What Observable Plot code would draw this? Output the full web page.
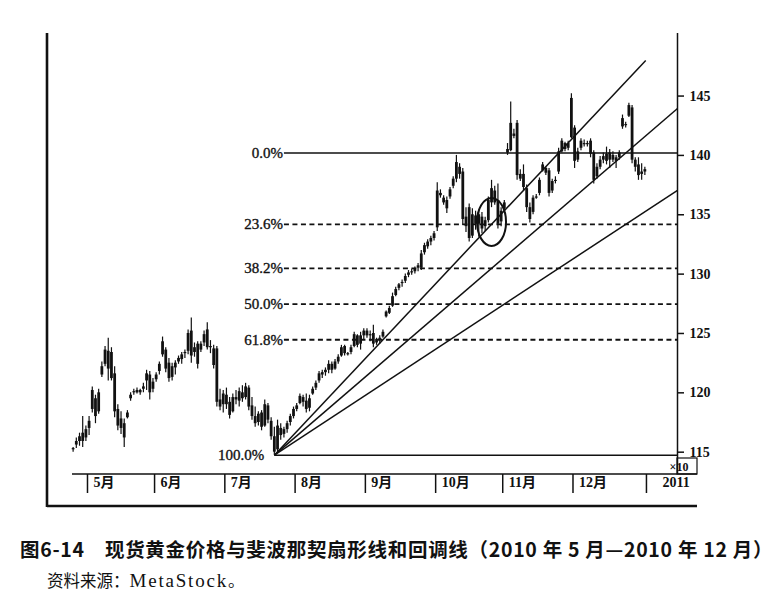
<!DOCTYPE html>
<html><head><meta charset="utf-8">
<script src="https://cdn.jsdelivr.net/npm/d3@7"></script>
<script src="https://cdn.jsdelivr.net/npm/@observablehq/plot@0.6"></script>
<style>
body{margin:0;background:#fff;}
#wrap{position:relative;width:772px;height:595px;overflow:hidden;background:#fff;}
#chart{position:absolute;left:0;top:0;}
.cap1{position:absolute;left:20px;top:536px;white-space:nowrap;font-family:"Noto Sans CJK SC","Liberation Sans",sans-serif;font-weight:bold;font-size:19.5px;letter-spacing:0.7px;line-height:26px;color:#111;}
.cap2{position:absolute;left:47px;top:567px;white-space:nowrap;font-family:"Noto Sans CJK SC",serif;font-size:16.5px;line-height:26px;color:#111;}
.cap2 .lat{font-family:"Liberation Serif",serif;font-size:19px;letter-spacing:1.8px;}
</style></head>
<body><div id="wrap"><div id="chart"></div>
<div class="cap1">图6-14　现货黄金价格与斐波那契扇形线和回调线（2010 年 5 月—2010 年 12 月）</div>
<div class="cap2">资料来源：<span class="lat">MetaStock</span>。</div>
</div>
<script>
// Daily bars [open, high, low, close], price ×10
const apr = [
[115.2,115.4,115.0,115.3],[115.6,116.2,115.3,115.9],[115.9,116.6,115.5,116.3],[116.6,118.0,115.4,115.9],[116.2,117.2,115.9,116.9]];
const may = [
[117.0,118.0,116.4,117.6],[118.6,120.5,118.3,120.2],[119.5,119.8,117.4,118.0],[118.4,120.3,118.2,120.0],
[121.5,122.6,121.3,122.2],[122.4,123.9,122.2,123.6],[123.5,124.6,121.0,122.0],[123.4,123.8,121.0,121.2],
[121.6,122.2,117.9,118.4],[118.6,119.0,116.8,117.2],[117.8,118.4,116.5,117.0],[117.4,117.8,115.4,116.2],
[117.9,118.5,117.8,118.3],[119.5,120.0,119.3,119.8],[120.0,120.3,119.8,120.1],[120.2,120.4,119.9,120.0],
[120.0,120.3,119.8,120.2],[120.3,120.8,120.0,120.5],[121.0,121.9,120.2,121.6],[121.5,121.8,119.4,120.0],
[120.3,121.2,120.0,120.9]];
const jun = [
[121.1,121.7,120.9,121.5],[121.8,122.6,121.5,122.4],[123.2,124.7,123.0,124.3],[123.6,123.8,121.7,122.0],
[122.5,122.9,120.9,121.2],[121.3,122.5,121.0,122.2],[122.1,122.7,121.5,122.5],[122.6,123.1,122.4,122.9],
[122.8,123.4,122.4,123.2],[123.3,123.6,122.9,123.4],[123.5,125.3,123.2,125.0],[125.2,126.3,122.5,123.1],
[123.4,124.2,123.0,123.8],[124.1,124.3,122.0,122.4],[123.6,124.3,123.4,124.1],[124.2,125.2,123.9,124.9],
[125.3,125.9,123.6,123.8],[123.8,124.4,123.3,123.9],[123.7,124.0,122.0,122.3],[123.7,123.9,118.8,119.2],
[119.4,120.3,118.5,118.8],[119.0,120.2,118.3,119.9]];
const jul = [
[119.8,120.4,118.6,119.0],[119.2,119.6,117.8,118.1],[118.4,119.9,118.3,119.6],[119.6,120.2,119.0,119.4],
[119.3,120.4,118.8,120.1],[120.0,120.6,119.2,119.5],[119.6,120.8,119.4,120.5],[120.4,120.6,118.5,118.8],
[118.9,119.6,117.7,118.0],[118.0,118.8,117.1,117.4],[117.5,118.4,117.2,118.2],[118.3,118.5,116.8,117.1],
[117.2,119.4,117.1,119.0],[118.9,119.1,117.4,117.7],[117.6,117.9,116.0,116.3],[116.3,117.1,114.75,115.0],
[115.2,117.7,114.9,117.2],[117.0,117.4,116.0,116.4],[116.5,117.1,116.2,116.9],[116.9,117.6,116.6,117.4],
[117.5,118.2,117.2,118.0],[118.0,118.8,117.8,118.6]];
const aug = [
[118.6,119.1,118.4,118.9],[119.1,119.9,119.0,119.7],[119.6,119.8,118.8,119.2],[119.3,119.9,118.3,118.6],
[118.7,119.8,118.4,119.5],[119.9,120.5,119.8,120.3],[120.4,121.0,120.2,120.8],[121.0,121.8,120.8,121.6],
[121.5,121.9,121.2,121.7],[121.7,122.1,121.4,121.9],[121.9,122.7,121.6,122.4],[122.4,122.6,121.6,121.9],
[122.0,122.8,121.9,122.6],[122.6,123.2,122.4,123.0],[123.1,124.0,123.0,123.8],[123.9,124.0,123.1,123.3],
[123.2,123.4,123.1,123.3],[123.4,124.0,123.2,123.8],[123.9,125.1,123.8,124.9],[124.8,124.9,123.8,124.0],
[124.1,125.1,123.6,124.8],[124.8,125.4,124.5,125.2]];
const sep = [
[125.2,125.4,124.6,124.8],[124.8,125.2,124.3,124.9],[125.0,125.7,123.8,124.1],[124.2,124.6,124.0,124.5],
[124.4,124.8,124.1,124.6],[124.7,125.3,124.6,125.1],[126.4,126.9,126.3,126.8],[126.7,127.3,126.6,127.1],
[127.3,128.4,127.2,128.1],[128.2,128.9,128.1,128.7],[128.8,129.2,128.6,129.1],[129.2,129.5,128.9,129.3],
[129.4,130.0,129.2,129.8],[129.9,130.3,129.7,130.1],[130.1,130.4,129.9,130.2],[130.2,130.6,130.0,130.4],
[130.5,130.9,130.2,130.7],[130.5,132.0,130.3,131.7],[131.8,132.6,131.6,132.4],[132.3,132.9,132.1,132.7],
[132.7,133.2,132.4,133.0],[133.0,133.6,132.8,133.4]];
const oct = [
[133.9,137.7,133.6,137.0],[136.8,137.1,136.4,136.6],[136.4,136.6,135.8,136.0],[135.5,136.5,135.1,136.2],
[136.5,137.3,136.3,137.1],[137.4,138.2,137.2,138.0],[138.0,140.0,137.7,139.4],[139.0,139.3,138.0,138.4],
[138.6,138.9,134.1,134.6],[134.8,135.6,133.5,134.0],[135.6,135.9,132.7,133.0],[133.2,135.5,133.0,135.0],
[134.9,135.3,133.7,134.2],[134.2,135.4,133.1,135.0],[134.8,135.2,133.4,133.8],[134.0,134.8,133.6,134.5],
[134.5,136.5,134.3,136.2],[136.0,137.9,135.6,137.2],[137.0,137.4,135.8,136.0],[136.2,137.6,133.8,134.2],
[134.4,135.6,134.0,135.3]];
const nov = [
[135.5,136.2,135.3,136.0],[140.2,141.0,140.0,140.5],[140.4,144.5,140.3,142.7],[141.8,142.2,141.4,141.6],
[142.7,142.95,137.9,138.3],[138.4,138.8,137.8,138.0],[138.4,139.2,137.0,137.3],[137.2,137.5,135.2,135.6],
[135.6,136.0,134.3,134.6],[135.2,136.6,135.0,136.4],[136.4,136.7,136.3,136.5],[136.8,138.1,136.6,137.9],
[138.7,139.4,138.6,139.2],[138.9,139.0,138.3,138.5],[138.7,138.9,136.5,136.8],[137.0,138.0,136.8,137.8],
[137.8,138.2,137.6,137.9],[138.6,140.6,138.4,140.3],[140.3,141.4,140.2,141.2],[141.0,141.1,140.3,140.5],
[140.6,141.2,140.4,141.0],[141.5,145.2,141.4,144.8]];
const dec = [
[142.3,142.5,138.9,139.5],[139.6,140.6,139.4,140.3],[140.6,141.4,140.4,141.2],[141.0,141.3,140.7,140.9],
[140.9,141.2,140.7,141.0],[141.2,141.4,139.8,140.1],[140.2,140.4,137.6,137.9],[138.2,139.3,138.0,139.0],
[139.0,139.9,138.8,139.6],[139.6,140.2,139.3,139.9],[140.1,140.7,139.2,139.5],[139.6,140.5,138.9,140.2],
[140.0,140.3,139.4,139.6],[139.5,140.0,138.9,139.8],[139.8,140.4,139.6,140.2],[142.4,143.4,142.2,143.1],
[142.6,142.8,142.3,142.5],[143.3,144.4,143.2,144.2],[144.0,144.2,139.3,139.6],[139.6,139.8,138.6,139.0],
[139.2,139.8,137.9,138.3],[138.4,139.3,137.9,138.6],[138.6,139.0,138.3,138.8]];

const monthLabels = ["5月","6月","7月","8月","9月","10月","11月","12月","2011"];
const yTicks = [115,120,125,130,135,140,145];
const fibHigh = 140.2;          // 0.0% level
const fanToBar = 113;           // bar of the high used for the fan
const fibLevels = [0, 23.6, 38.2, 50, 61.8, 100];
const fanRatios = [0.618, 0.5, 0.382];
const fanCeil = 148;
const highlight = {bar: 126, value: 134.4};

// layout
const W = 772, H = 520, mT = 33, mL = 47, mR = 95, mB = 46;
const xDomain = [-13.02, 184.22], yDomain = [113.12, 150.27];

const bars = [apr, may, jun, jul, aug, sep, oct, nov, dec].flat()
  .map((d, k) => ({i: k - apr.length, o: d[0], h: d[1], l: d[2], c: d[3]}));
const lowBar = bars.reduce((a, b) => (b.l < a.l ? b : a));
const fibLow = lowBar.l;

let acc = 0;
const monthTicks = [may, jun, jul, aug, sep, oct, nov, dec].map((m, k) => {
  const s = acc; acc += m.length; return {pos: s - 0.5, label: monthLabels[k]};
});
monthTicks.push({pos: acc - 0.5, label: monthLabels[8]});

const levels = fibLevels.map(p => ({p, v: fibHigh - p / 100 * (fibHigh - fibLow),
  start: p === 100 ? lowBar.i : lowBar.i + 3, end: xDomain[1]}));
const fans = fanRatios.map(f => {
  const slope = f * (fibHigh - fibLow) / (fanToBar - lowBar.i);
  let x2 = xDomain[1], y2 = fibLow + slope * (x2 - lowBar.i);
  if (y2 > fanCeil) { x2 = lowBar.i + (fanCeil - fibLow) / slope; y2 = fanCeil; }
  return {x1: lowBar.i, y1: fibLow, x2, y2};
});

const k = 0.5523, RX = 14.5, RY = 24;
const ellipse = {draw(ctx) {
  ctx.moveTo(RX, 0);
  ctx.bezierCurveTo(RX, RY * k, RX * k, RY, 0, RY);
  ctx.bezierCurveTo(-RX * k, RY, -RX, RY * k, -RX, 0);
  ctx.bezierCurveTo(-RX, -RY * k, -RX * k, -RY, 0, -RY);
  ctx.bezierCurveTo(RX * k, -RY, RX, -RY * k, RX, 0);
  ctx.closePath();
}};

const ink = "#111";
const serif = '"Liberation Serif", "Noto Sans CJK SC", serif';
const plot = Plot.plot({
  width: W, height: H, marginTop: mT, marginLeft: mL, marginRight: mR, marginBottom: mB,
  style: {fontFamily: serif, fontSize: "14px", background: "white", overflow: "visible"},
  x: {type: "linear", domain: xDomain, axis: null},
  y: {domain: yDomain, axis: null},
  marks: [
    Plot.link(fans, {x1: "x1", y1: "y1", x2: "x2", y2: "y2", stroke: ink, strokeWidth: 1.5}),
    Plot.link(levels.filter(d => d.p === 0 || d.p === 100), {x1: "start", x2: "end", y1: "v", y2: "v", stroke: ink, strokeWidth: 1.5}),
    Plot.link(levels.filter(d => d.p !== 0 && d.p !== 100), {x1: "start", x2: "end", y1: "v", y2: "v", stroke: ink, strokeWidth: 1.8, strokeDasharray: "5,3.5"}),
    Plot.text(levels.filter(d => d.p !== 100), {x: "start", y: "v", text: d => d.p.toFixed(1) + "%", textAnchor: "end", dx: -1, fontSize: 15, fill: ink, stroke: ink, strokeWidth: 0.35}),
    Plot.text(levels.filter(d => d.p === 100), {x: "start", y: "v", text: d => d.p.toFixed(1) + "%", textAnchor: "end", dx: -10, fontSize: 15, fill: ink, stroke: ink, strokeWidth: 0.35}),
    Plot.ruleX(bars, {x: "i", y1: "l", y2: "h", stroke: ink, strokeWidth: 1.2}),
    Plot.ruleX(bars, {x: "i", y1: d => Math.min(d.o, d.c), y2: d => Math.max(d.o, d.c), stroke: ink, strokeWidth: 2.8}),
    Plot.dot([highlight], {x: "bar", y: "value", symbol: ellipse, fill: "none", stroke: ink, strokeWidth: 2}),
    Plot.ruleX([xDomain[1]], {stroke: ink, strokeWidth: 1.5}),
    Plot.axisY({anchor: "right", ticks: yTicks, tickSize: 6, tickPadding: 6, tickFormat: d => String(d), fontSize: 14, fontWeight: "bold", stroke: ink, strokeWidth: 1.5, fill: ink}),
    Plot.axisX({anchor: "bottom", ticks: monthTicks.map(d => d.pos), tickSize: 19, tickFormat: () => "", stroke: ink, strokeWidth: 1.5}),
    Plot.text(monthTicks.slice(0, 8), {x: "pos", text: "label", frameAnchor: "bottom", textAnchor: "start", dx: 6, dy: 12, fontSize: 14, fontWeight: "bold", fill: ink}),
    Plot.text(monthTicks.slice(8), {x: "pos", text: "label", frameAnchor: "bottom", textAnchor: "start", dx: 16, dy: 12, fontSize: 14, fontWeight: "bold", fill: ink})
  ]
});
document.getElementById("chart").append(plot);

// frame decorations drawn from the plot's scales
const X = plot.scale("x"), Y = plot.scale("y");
const xl = X.range[0], xr = X.range[1], yb = Y.range[0], yt = Y.range[1];
const svg = d3.select(plot);
const g = svg.append("g").attr("stroke", ink).attr("fill", "none");
g.append("line").attr("x1", xl).attr("x2", xl).attr("y1", yt).attr("y2", yb + 33).attr("stroke-width", 2.6);
g.append("line").attr("x1", xl).attr("x2", xr + 20).attr("y1", yb + 32).attr("y2", yb + 32).attr("stroke-width", 2.6);
g.append("line").attr("x1", X.apply(monthTicks[0].pos) - 15).attr("x2", xr + 20).attr("y1", yb).attr("y2", yb).attr("stroke-width", 1.6);
g.append("rect").attr("x", xr).attr("y", yb - 16).attr("width", 20).attr("height", 16).attr("stroke-width", 1.2);
svg.append("text").attr("x", xr + 2).attr("y", yb - 3.5).attr("font-size", 12).attr("font-weight", "bold")
  .attr("font-family", serif).attr("fill", ink).text("×10");
</script>
</body></html>
